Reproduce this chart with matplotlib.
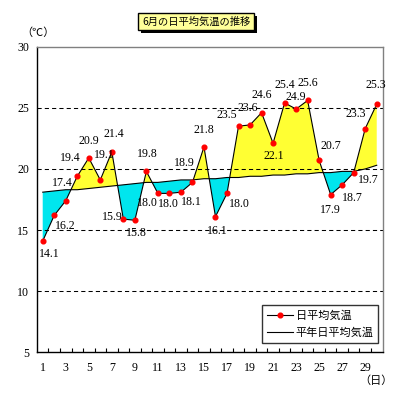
import matplotlib
matplotlib.use("Agg")
import matplotlib.pyplot as plt
from matplotlib.patches import Rectangle
from matplotlib.lines import Line2D
import numpy as np

# ---- data ----
days = list(range(1, 31))
daily_mean = [14.1, 16.2, 17.4, 19.4, 20.9, 19.1, 21.4, 15.9, 15.8, 19.8,
              18.0, 18.0, 18.1, 18.9, 21.8, 16.1, 18.0, 23.5, 23.6, 24.6,
              22.1, 25.4, 24.9, 25.6, 20.7, 17.9, 18.7, 19.7, 23.3, 25.3]
normal_mean = [18.1, 18.2, 18.3, 18.3, 18.4, 18.5, 18.6, 18.7, 18.8, 18.9,
               18.9, 19.0, 19.1, 19.1, 19.2, 19.2, 19.3, 19.3, 19.4, 19.4,
               19.5, 19.5, 19.6, 19.6, 19.7, 19.7, 19.8, 19.8, 20.0, 20.3]
y_ticks = [5, 10, 15, 20, 25, 30]
x_tick_days = list(range(1, 31, 2))
title = "6月の日平均気温の推移"
series_names = ["日平均気温", "平年日平均気温"]

# label offsets (pixels, dx, dy-up) for data labels
label_offsets = [(7, -13), (11, -11), (-3, 18), (-7, 18), (0, 17), (4, 25),
                 (2, 18), (-11, 2), (2, -13), (1, 17), (-10, -10), (-1, -11),
                 (10, -10), (-8, 19), (0, 17), (2, -14), (12, -11), (-12, 11),
                 (-2, 17), (0, 18), (1, -13), (0, 18), (0, 12), (0, 17),
                 (12, 14), (0, -15), (10, -13), (15, -7), (-9, 15), (-1, 19)]

W, H = 399, 400
fig = plt.figure(figsize=(W / 100, H / 100), dpi=100)
ax = fig.add_axes([37.3 / W, 1 - 352.3 / H, (383.3 - 37.3) / W, (352.3 - 46.7) / H])

num_font = "Liberation Serif"
jp_font = ["Noto Sans CJK JP", "DejaVu Sans"]
num_size = 8.6

x = np.array(days, dtype=float)
d = np.array(daily_mean)
n = np.array(normal_mean)

ax.fill_between(x, d, n, where=d >= n, interpolate=True, color="#FFFF33", lw=0, zorder=1)
ax.fill_between(x, d, n, where=d <= n, interpolate=True, color="#00E6EE", lw=0, zorder=1)

for yv in y_ticks[1:-1]:
    ax.axhline(yv, color="black", lw=0.75, ls=(0, (4, 3)), zorder=2)

ax.plot(x, n, color="black", lw=0.8, zorder=3)
ax.plot(x, d, color="black", lw=0.8, marker="o", ms=3.4, mfc="#FF0000", mec="#FF0000", zorder=4)

for xi, yi, (dx, dy) in zip(x, d, label_offsets):
    ax.annotate(f"{yi:.1f}", (xi, yi), xytext=(dx, dy), textcoords="offset pixels",
                ha="center", va="center", fontsize=num_size, family=num_font, zorder=5)

ax.set_xlim(0.53, 30.57)
ax.set_ylim(5, 30)
ax.set_yticks(y_ticks)
ax.set_yticklabels([str(v) for v in y_ticks], family=num_font, fontsize=num_size)
ax.tick_params(axis="y", length=0, pad=6)
ax.set_xticks(x_tick_days)
ax.set_xticklabels([str(v) for v in x_tick_days], family=num_font, fontsize=num_size)
ax.set_xticks(np.arange(1.5, 30.5, 1.0), minor=True)
ax.tick_params(axis="x", which="major", length=0, pad=7)
ax.tick_params(axis="x", which="minor", direction="in", length=3, width=0.8)

for s in ["top", "right"]:
    ax.spines[s].set_color("#808080")
    ax.spines[s].set_linewidth(1)
for s in ["left", "bottom"]:
    ax.spines[s].set_color("black")
    ax.spines[s].set_linewidth(1)

def fx(px):
    return px / W

def fy(py):
    return 1 - py / H

# title box with shadow
fig.patches.append(Rectangle((fx(141.3), fy(33.3)), fx(257.3) - fx(141.3), fy(16.3) - fy(33.3),
                             transform=fig.transFigure, facecolor="black", edgecolor="none", zorder=1))
fig.patches.append(Rectangle((fx(138.3), fy(30.3)), fx(254.3) - fx(138.3), fy(13.3) - fy(30.3),
                             transform=fig.transFigure, facecolor="#FFFF99", edgecolor="black", lw=1, zorder=2))
fig.text(fx(196.3), fy(21.8), title, ha="center", va="center", fontsize=7.4, family=jp_font, zorder=3)

fig.text(fx(37.5), fy(32.5), "（℃）", ha="center", va="center", fontsize=8, family=jp_font)
fig.text(fx(376), fy(380.5), "（日）", ha="center", va="center", fontsize=8, family=jp_font)

handles = [Line2D([], [], color="black", lw=0.8, marker="o", ms=3.4, mfc="#FF0000", mec="#FF0000"),
           Line2D([], [], color="black", lw=0.8)]
leg = fig.legend(handles, series_names, loc="upper left",
                 bbox_to_anchor=(fx(261.7), fy(305)), borderaxespad=0,
                 prop={"family": jp_font, "size": 8}, frameon=True, fancybox=False,
                 edgecolor="black", handlelength=2.4, handletextpad=0.2,
                 labelspacing=0.6, borderpad=0.45)
leg.get_frame().set_linewidth(1)

fig.savefig("out.png", dpi=100)
